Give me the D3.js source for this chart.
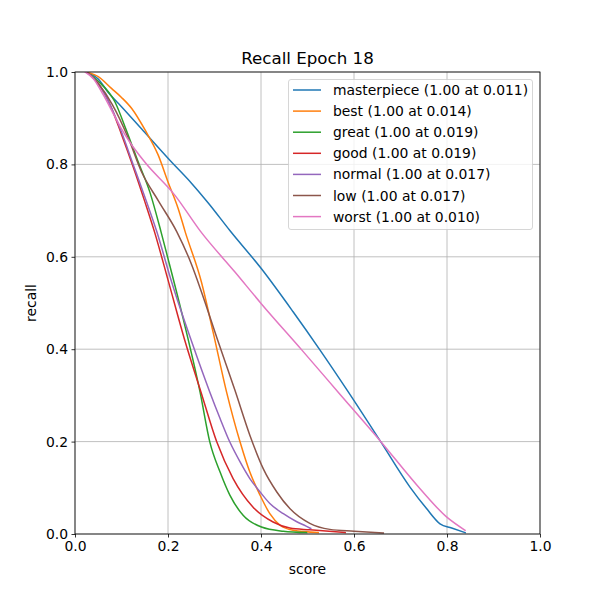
<!DOCTYPE html>
<html><head><meta charset="utf-8">
<script src="https://cdn.jsdelivr.net/npm/d3@7"></script>
<style>body{margin:0;background:#fff;} svg{display:block;font-family:"DejaVu Sans",sans-serif;}</style>
</head><body>
<svg id="c" width="600" height="600"></svg>
<script>
const names = ["masterpiece","best","great","good","normal","low","worst"];
const legendLabels = ["masterpiece (1.00 at 0.011)","best (1.00 at 0.014)","great (1.00 at 0.019)","good (1.00 at 0.019)","normal (1.00 at 0.017)","low (1.00 at 0.017)","worst (1.00 at 0.010)"];
const colors = ["#1f77b4","#ff7f0e","#2ca02c","#d62728","#9467bd","#8c564b","#e377c2"];
const xTicks = [0,0.2,0.4,0.6,0.8,1.0];
const yTicks = [0,0.2,0.4,0.6,0.8,1.0];

const masterpiece = [[0.025,1.0],[0.05,0.985],[0.072,0.955],[0.1,0.925],[0.143,0.877],[0.204,0.809],[0.25,0.76],[0.287,0.716],[0.333,0.657],[0.401,0.574],[0.469,0.481],[0.527,0.398],[0.588,0.307],[0.656,0.202],[0.72,0.102],[0.756,0.055],[0.785,0.022],[0.81,0.013],[0.839,0.003]];
const best = [[0.025,1.0],[0.05,0.99],[0.079,0.964],[0.1,0.945],[0.122,0.921],[0.151,0.874],[0.179,0.82],[0.2,0.762],[0.222,0.704],[0.237,0.654],[0.272,0.545],[0.297,0.437],[0.326,0.307],[0.355,0.199],[0.376,0.134],[0.398,0.084],[0.419,0.044],[0.441,0.019],[0.469,0.008],[0.523,0.003]];
const great = [[0.025,1.0],[0.05,0.98],[0.086,0.935],[0.11,0.875],[0.136,0.805],[0.161,0.74],[0.185,0.654],[0.2,0.596],[0.229,0.481],[0.269,0.307],[0.29,0.199],[0.312,0.134],[0.333,0.084],[0.362,0.04],[0.401,0.015],[0.448,0.006],[0.498,0.003]];
const good = [[0.025,1.0],[0.05,0.975],[0.075,0.93],[0.1,0.865],[0.125,0.795],[0.15,0.72],[0.171,0.654],[0.2,0.55],[0.237,0.416],[0.271,0.307],[0.305,0.199],[0.34,0.12],[0.383,0.058],[0.426,0.026],[0.462,0.013],[0.505,0.009],[0.581,0.003]];
const normal = [[0.025,1.0],[0.05,0.975],[0.075,0.93],[0.1,0.87],[0.125,0.8],[0.15,0.73],[0.176,0.654],[0.208,0.545],[0.251,0.416],[0.29,0.307],[0.312,0.25],[0.333,0.199],[0.355,0.156],[0.376,0.12],[0.398,0.091],[0.419,0.066],[0.448,0.044],[0.476,0.027],[0.497,0.017],[0.507,0.012]];
const low = [[0.025,1.0],[0.05,0.975],[0.08,0.93],[0.115,0.856],[0.143,0.784],[0.18,0.72],[0.219,0.654],[0.25,0.585],[0.272,0.524],[0.308,0.416],[0.344,0.311],[0.376,0.214],[0.405,0.141],[0.434,0.091],[0.462,0.055],[0.505,0.023],[0.548,0.01],[0.6,0.006],[0.663,0.002]];
const worst = [[0.022,1.0],[0.04,0.985],[0.06,0.952],[0.085,0.905],[0.1,0.877],[0.118,0.848],[0.15,0.805],[0.215,0.733],[0.27,0.655],[0.344,0.567],[0.401,0.498],[0.488,0.398],[0.566,0.307],[0.656,0.202],[0.742,0.098],[0.799,0.037],[0.839,0.008]];
const series = [masterpiece,best,great,good,normal,low,worst];

const svg = d3.select("#c");
const L=75,R=540,T=72,B=534;
const x = d3.scaleLinear().domain([0,1]).range([L,R]);
const y = d3.scaleLinear().domain([0,1]).range([B,T]);

// grid
const g = svg.append("g");
g.selectAll(".gx").data(xTicks).enter().append("line")
  .attr("x1",d=>x(d)).attr("x2",d=>x(d)).attr("y1",T).attr("y2",B)
  .attr("stroke","#b0b0b0").attr("stroke-width",0.8);
g.selectAll(".gy").data(yTicks).enter().append("line")
  .attr("y1",d=>y(d)).attr("y2",d=>y(d)).attr("x1",L).attr("x2",R)
  .attr("stroke","#b0b0b0").attr("stroke-width",0.8);

// lines
const line = d3.line().x(d=>x(d[0])).y(d=>y(d[1])).curve(d3.curveMonotoneX);
svg.append("clipPath").attr("id","cp").append("rect").attr("x",L).attr("y",T).attr("width",R-L).attr("height",B-T);
svg.append("g").attr("clip-path","url(#cp)").selectAll("path").data(series).enter().append("path")
  .attr("d",line).attr("fill","none").attr("stroke",(d,i)=>colors[i]).attr("stroke-width",1.5)
  .attr("stroke-linejoin","round").attr("stroke-linecap","square");

// axes
const fmt = d3.format(".1f");
const xa = svg.append("g").attr("transform",`translate(0,${B})`)
  .call(d3.axisBottom(x).tickValues(xTicks).tickFormat(fmt).tickSize(3.5).tickPadding(3.5));
const ya = svg.append("g").attr("transform",`translate(${L},0)`)
  .call(d3.axisLeft(y).tickValues(yTicks).tickFormat(fmt).tickSize(3.5).tickPadding(3.5));
[xa,ya].forEach(a=>{
  a.select(".domain").remove();
  a.selectAll("text").attr("font-size",13.9).attr("fill","#000").attr("font-family","DejaVu Sans");
  a.selectAll("line").attr("stroke","#000").attr("stroke-width",0.8);
});
svg.append("rect").attr("x",L).attr("y",T).attr("width",R-L).attr("height",B-T)
  .attr("fill","none").attr("stroke","#000").attr("stroke-width",0.8);

// labels
svg.append("text").attr("x",(L+R)/2).attr("y",64).attr("text-anchor","middle")
  .attr("font-size",16.7).text("Recall Epoch 18");
svg.append("text").attr("x",(L+R)/2).attr("y",574).attr("text-anchor","middle")
  .attr("font-size",13.9).text("score");
svg.append("text").attr("transform",`translate(36,${(T+B)/2}) rotate(-90)`).attr("text-anchor","middle")
  .attr("font-size",13.9).text("recall");

// legend
const lg = svg.append("g");
lg.append("rect").attr("x",288.5).attr("y",79.5).attr("width",244).attr("height",150).attr("rx",2.5)
  .attr("fill","#fff").attr("fill-opacity",0.8).attr("stroke","#cccccc").attr("stroke-width",0.8);
legendLabels.forEach((t,i)=>{
  const yy = 90 + i*21.1;
  lg.append("line").attr("x1",293).attr("x2",321).attr("y1",yy).attr("y2",yy)
    .attr("stroke",colors[i]).attr("stroke-width",1.5);
  lg.append("text").attr("x",333).attr("y",yy+5).attr("font-size",13.9).text(t);
});
</script>
</body></html>
